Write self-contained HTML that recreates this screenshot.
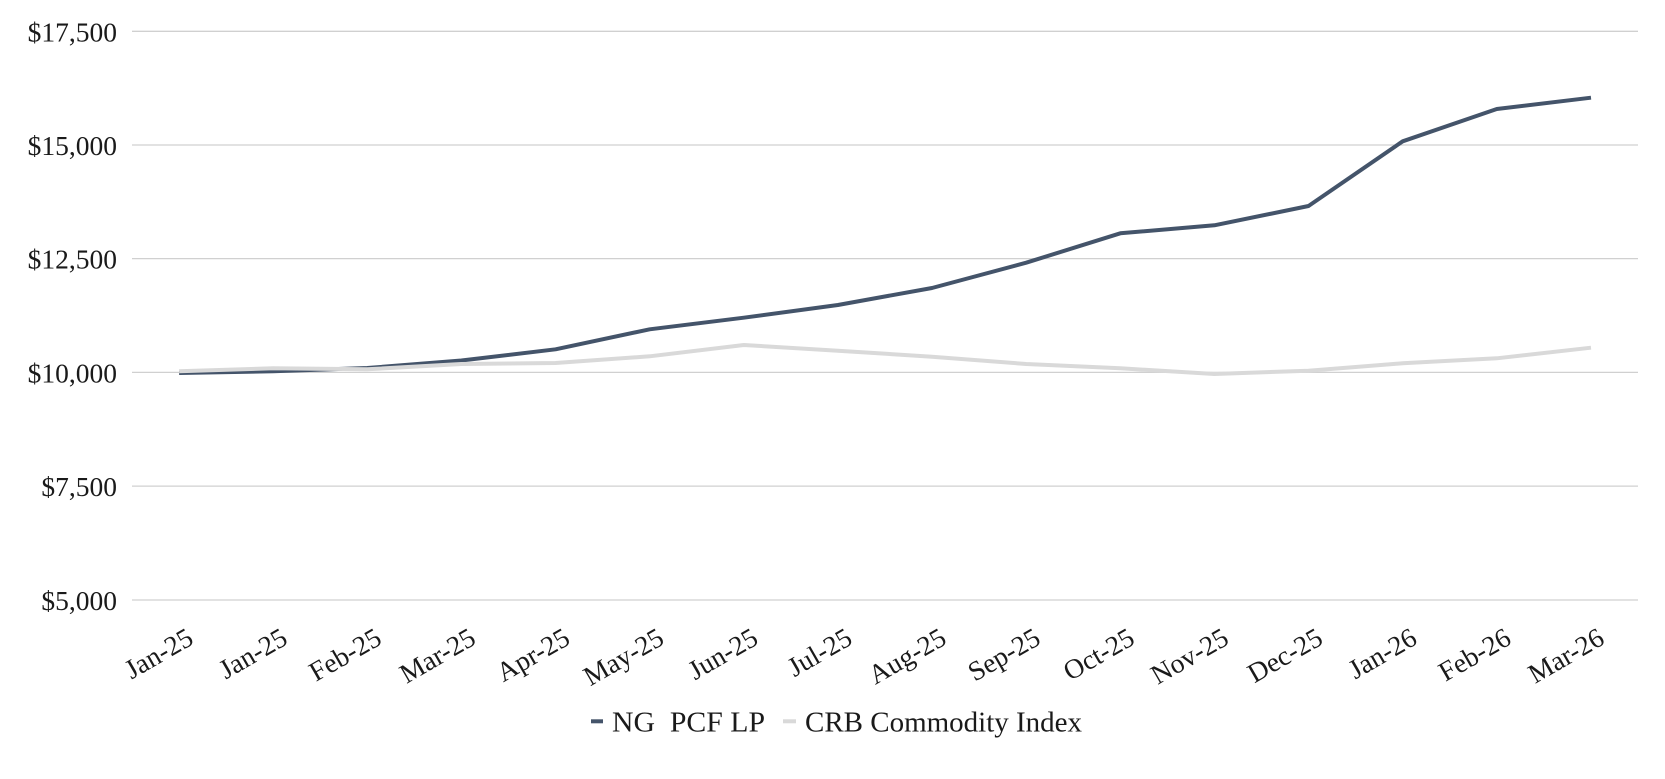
<!DOCTYPE html>
<html>
<head>
<meta charset="utf-8">
<style>
  html,body{margin:0;padding:0;background:#ffffff;}
  body{width:1665px;height:779px;overflow:hidden;}
  svg{display:block;}
  text{font-family:"Liberation Serif", "DejaVu Serif", serif;fill:#1a1a1a;}
</style>
</head>
<body>
<svg width="1665" height="779" viewBox="0 0 1665 779" xmlns="http://www.w3.org/2000/svg">
  <rect x="0" y="0" width="1665" height="779" fill="#ffffff"/>
  <!-- gridlines -->
  <g stroke="#d0d0d0" stroke-width="1.3">
    <line x1="132" y1="31.3" x2="1638" y2="31.3"/>
    <line x1="132" y1="145" x2="1638" y2="145"/>
    <line x1="132" y1="258.6" x2="1638" y2="258.6"/>
    <line x1="132" y1="372.4" x2="1638" y2="372.4"/>
    <line x1="132" y1="486.1" x2="1638" y2="486.1"/>
    <line x1="132" y1="600" x2="1638" y2="600"/>
  </g>
  <!-- y labels -->
  <g font-size="27.5" text-anchor="end">
    <text x="117" y="41.3">$17,500</text>
    <text x="117" y="155">$15,000</text>
    <text x="117" y="268.6">$12,500</text>
    <text x="117" y="382.4">$10,000</text>
    <text x="117" y="496.1">$7,500</text>
    <text x="117" y="610">$5,000</text>
  </g>
  <!-- series: NG PCF LP -->
  <polyline fill="none" stroke="#44546a" stroke-width="4" stroke-linejoin="round"
    points="179.1,373 273.2,371.3 367.3,368 461.4,360.5 555.6,349.3 649.7,329.3 743.8,317.7 837.9,305 932,288 1026.2,262.7 1120.3,233.3 1214.4,225.3 1308.5,206 1402.7,141.3 1496.8,109 1591,97.7"/>
  <!-- series: CRB Commodity Index -->
  <polyline fill="none" stroke="#d9d9d9" stroke-width="4" stroke-linejoin="round"
    points="179.1,371.3 273.2,368.3 367.3,369.3 461.4,364 555.6,363 649.7,356.3 743.8,345 837.9,350.7 932,356.7 1026.2,364 1120.3,368.3 1214.4,374 1308.5,370.7 1402.7,363.3 1496.8,358.3 1591,347.7"/>
  <!-- x labels -->
  <g font-size="27.5" text-anchor="end">
    <text transform="translate(195,643) rotate(-30)">Jan-25</text>
    <text transform="translate(289.2,643) rotate(-30)">Jan-25</text>
    <text transform="translate(383.3,643) rotate(-30)">Feb-25</text>
    <text transform="translate(477.4,643) rotate(-30)">Mar-25</text>
    <text transform="translate(571.6,643) rotate(-30)">Apr-25</text>
    <text transform="translate(665.7,643) rotate(-30)">May-25</text>
    <text transform="translate(759.8,643) rotate(-30)">Jun-25</text>
    <text transform="translate(853.9,643) rotate(-30)">Jul-25</text>
    <text transform="translate(948,643) rotate(-30)">Aug-25</text>
    <text transform="translate(1042.2,643) rotate(-30)">Sep-25</text>
    <text transform="translate(1136.3,643) rotate(-30)">Oct-25</text>
    <text transform="translate(1230.4,643) rotate(-30)">Nov-25</text>
    <text transform="translate(1324.5,643) rotate(-30)">Dec-25</text>
    <text transform="translate(1418.7,643) rotate(-30)">Jan-26</text>
    <text transform="translate(1512.8,643) rotate(-30)">Feb-26</text>
    <text transform="translate(1606,643) rotate(-30)">Mar-26</text>
  </g>
  <!-- legend -->
  <rect x="591" y="719.3" width="12" height="4" fill="#44546a"/>
  <text x="612" y="731.7" font-size="28" textLength="153" lengthAdjust="spacingAndGlyphs">NG&#160;&#160;PCF LP</text>
  <rect x="783" y="719.3" width="13" height="4" fill="#d9d9d9"/>
  <text x="805" y="731.7" font-size="28" textLength="277" lengthAdjust="spacingAndGlyphs">CRB Commodity Index</text>
</svg>
</body>
</html>
